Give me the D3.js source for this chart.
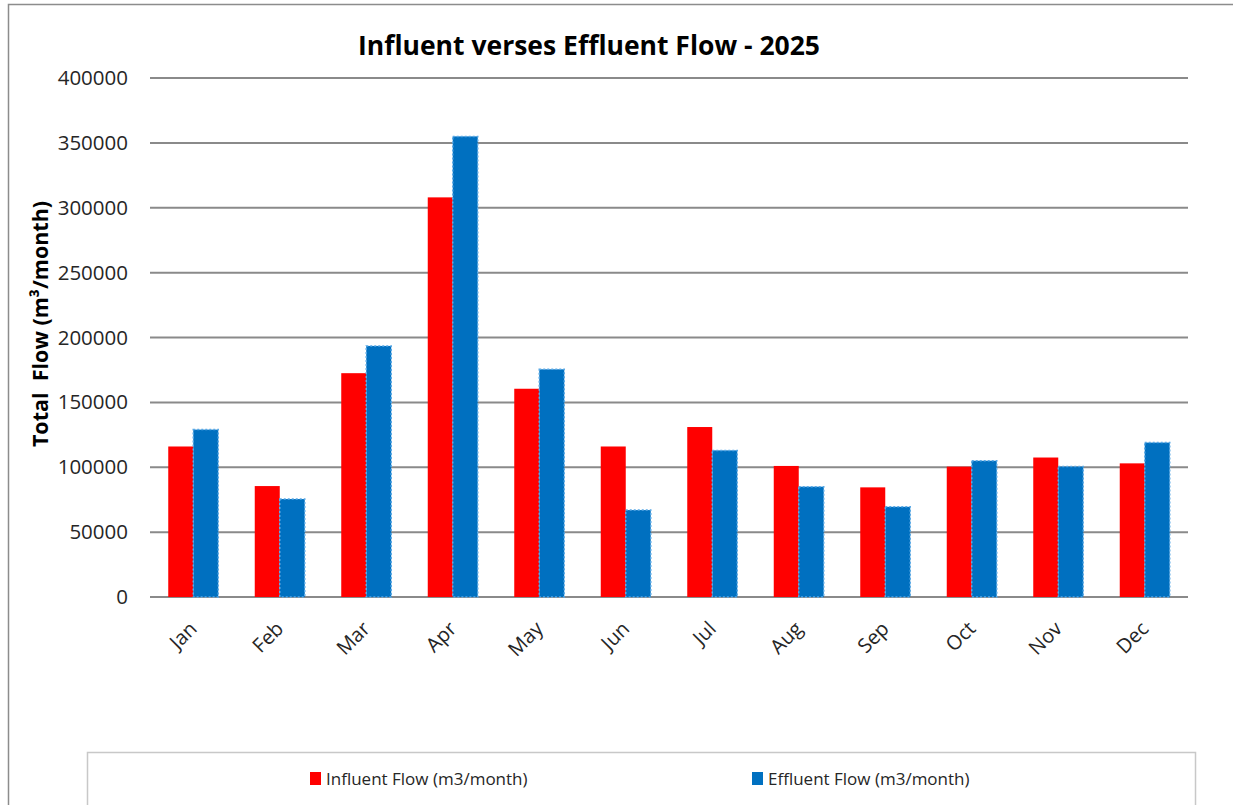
<!DOCTYPE html>
<html><head><meta charset="utf-8">
<script src="https://cdn.jsdelivr.net/npm/d3@7"></script>
<style>body{margin:0;background:#fff}svg{display:block}</style>
</head><body>
<svg id="c" width="1233" height="805"></svg>
<script>
const months = ["Jan","Feb","Mar","Apr","May","Jun","Jul","Aug","Sep","Oct","Nov","Dec"];
const influent = [116000, 85500, 172500, 308000, 160500, 116000, 131000, 101000, 84500, 100500, 107500, 103000];
const effluent = [129000, 75500, 193500, 355000, 175500, 67000, 113000, 85000, 69500, 105000, 100500, 119000];
const yTicks = [0, 50000, 100000, 150000, 200000, 250000, 300000, 350000, 400000];
const seriesNames = ["Influent Flow (m3/month)", "Effluent Flow (m3/month)"];

const svg = d3.select("#c");
const L = 150, R = 1188, T = 78, B = 597;
const x = d3.scaleBand().domain(months).range([L, R]).paddingInner(0).paddingOuter(0);
const y = d3.scaleLinear().domain([0, 400000]).range([B, T]);
const barW = 25;
const FONT = "'Open Sans', sans-serif";

// outer border
svg.append("path").attr("d", "M8.5,805 L8.5,4.5 L1233,4.5").attr("fill","none").attr("stroke","#8c8c8c").attr("stroke-width",1.5);

// gridlines
svg.append("g").selectAll("line").data(yTicks).join("line")
  .attr("x1", L).attr("x2", R).attr("y1", d=>y(d)).attr("y2", d=>y(d))
  .attr("stroke","#8a8a8a").attr("stroke-width",2);

// y tick labels
const yAxis = d3.axisLeft(y).tickValues(yTicks).tickSize(0).tickPadding(22).tickFormat(d3.format("d"));
const ya = svg.append("g").attr("transform",`translate(${L},0)`).call(yAxis);
ya.select(".domain").remove();
ya.selectAll("text").attr("font-family",FONT).attr("font-size",20.5).attr("fill","#262626");

// bars
const g = svg.append("g");
g.selectAll("rect.inf").data(months).join("rect").attr("class","inf")
  .attr("x", d=>x(d)+x.bandwidth()/2-barW).attr("width", barW)
  .attr("y", (d,i)=>y(influent[i])).attr("height",(d,i)=>B-y(influent[i]))
  .attr("fill","#ff0000");
g.selectAll("rect.eff").data(months).join("rect").attr("class","eff")
  .attr("x", d=>x(d)+x.bandwidth()/2).attr("width", barW)
  .attr("y", (d,i)=>y(effluent[i])).attr("height",(d,i)=>B-y(effluent[i]))
  .attr("fill","#0070c0").attr("stroke","#5aa9e6").attr("stroke-width",1.5).attr("stroke-dasharray","2,2");

// x labels
const xAxis = d3.axisBottom(x).tickSize(0).tickPadding(0);
const xa = svg.append("g").attr("transform",`translate(0,${B})`).call(xAxis);
xa.select(".domain").remove();
xa.selectAll("text")
  .attr("font-family",FONT).attr("font-size",20).attr("fill","#262626")
  .attr("text-anchor","end").attr("dy",0).attr("y",0)
  .attr("transform","translate(5,33) rotate(-45)");

// title
svg.append("text").attr("x",589).attr("y",55).attr("text-anchor","middle")
  .attr("font-family",FONT).attr("font-weight","bold").attr("font-size",26.5)
  .attr("fill","#000").text("Influent verses Effluent Flow - 2025");

// y title
svg.append("text").attr("transform","translate(48,324) rotate(-90)").attr("text-anchor","middle")
  .attr("font-family",FONT).attr("font-weight","bold").attr("font-size",21.5)
  .attr("fill","#000").style("white-space","pre").text("Total  Flow (m³/month)");

// legend box
svg.append("rect").attr("x",87.5).attr("y",752.5).attr("width",1108).attr("height",80)
  .attr("fill","#fff").attr("stroke","#c8c8c8").attr("stroke-width",1.5);
const leg = svg.append("g");
const legX = [310, 752];
const legColors = ["#ff0000","#0070c0"];
seriesNames.forEach((n,i)=>{
  leg.append("rect").attr("x",legX[i]).attr("y",772).attr("width",11).attr("height",13).attr("fill",legColors[i]);
  leg.append("text").attr("x",legX[i]+16).attr("y",785)
    .attr("font-family",FONT).attr("font-size",17).attr("fill","#262626").text(n);
});
</script>
</body></html>
